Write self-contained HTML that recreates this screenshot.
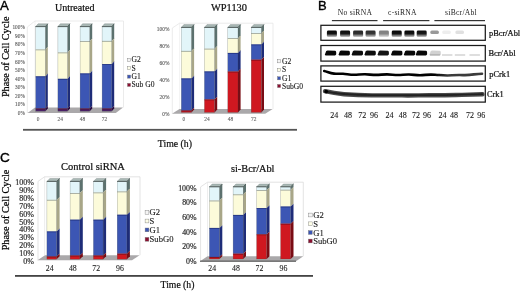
<!DOCTYPE html>
<html><head><meta charset="utf-8"><style>html,body{margin:0;padding:0;background:#fff;width:520px;height:292px;overflow:hidden}svg{display:block;filter:blur(0.35px)}</style></head><body>
<svg width="520" height="292" viewBox="0 0 520 292">
<rect width="520" height="292" fill="#fff"/>
<polyline points="27.3,113.0 27.3,27.0 35.0,21.0 123.5,21.0 123.5,107.5" fill="none" stroke="#e6e6e6" stroke-width="0.8"/>
<line x1="35.0" y1="21.0" x2="35.0" y2="107.5" stroke="#e6e6e6" stroke-width="0.5"/>
<polygon points="27.50,113.00 115.80,113.00 123.00,107.60 35.00,107.60" fill="#aaa8aa" />
<rect x="35.70" y="26.60" width="9.70" height="22.90" fill="#e2f5f9" />
<polygon points="45.40,26.60 47.80,23.80 47.80,46.70 45.40,49.50" fill="#5c716e" />
<rect x="35.70" y="49.50" width="9.70" height="26.90" fill="#fcfbda" />
<polygon points="45.40,49.50 47.80,46.70 47.80,73.60 45.40,76.40" fill="#a8a688" />
<rect x="35.70" y="76.40" width="9.70" height="32.20" fill="#3c56b4" />
<polygon points="45.40,76.40 47.80,73.60 47.80,105.80 45.40,108.60" fill="#1e2c78" />
<rect x="35.70" y="108.60" width="9.70" height="2.60" fill="#4a1f66" />
<polygon points="45.40,108.60 47.80,105.80 47.80,108.40 45.40,111.20" fill="#2a0c40" />
<polygon points="35.70,26.60 38.10,23.80 47.80,23.80 45.40,26.60" fill="#a9b8b5" stroke="#7d8c8a" stroke-width="0.4" />
<polyline points="35.7,26.6 45.400000000000006,26.6 47.800000000000004,23.8" fill="none" stroke="#3d4a48" stroke-width="0.7"/>
<line x1="35.7" y1="49.85" x2="45.400000000000006" y2="49.85" stroke="#7f8a86" stroke-width="0.8" opacity="0.85"/>
<line x1="35.7" y1="76.75" x2="45.400000000000006" y2="76.75" stroke="#1c2870" stroke-width="0.8" opacity="0.85"/>
<line x1="35.7" y1="108.95" x2="45.400000000000006" y2="108.95" stroke="#5a0a18" stroke-width="0.8" opacity="0.85"/>
<rect x="35.7" y="26.6" width="9.7" height="84.6" fill="none" stroke="#3d4a48" stroke-width="0.4" opacity="0.5"/>
<rect x="57.90" y="26.60" width="9.70" height="25.90" fill="#e2f5f9" />
<polygon points="67.60,26.60 70.00,23.80 70.00,49.70 67.60,52.50" fill="#5c716e" />
<rect x="57.90" y="52.50" width="9.70" height="26.40" fill="#fcfbda" />
<polygon points="67.60,52.50 70.00,49.70 70.00,76.10 67.60,78.90" fill="#a8a688" />
<rect x="57.90" y="78.90" width="9.70" height="29.70" fill="#3c56b4" />
<polygon points="67.60,78.90 70.00,76.10 70.00,105.80 67.60,108.60" fill="#1e2c78" />
<rect x="57.90" y="108.60" width="9.70" height="2.60" fill="#4a1f66" />
<polygon points="67.60,108.60 70.00,105.80 70.00,108.40 67.60,111.20" fill="#2a0c40" />
<polygon points="57.90,26.60 60.30,23.80 70.00,23.80 67.60,26.60" fill="#a9b8b5" stroke="#7d8c8a" stroke-width="0.4" />
<polyline points="57.9,26.6 67.6,26.6 70.0,23.8" fill="none" stroke="#3d4a48" stroke-width="0.7"/>
<line x1="57.9" y1="52.85" x2="67.6" y2="52.85" stroke="#7f8a86" stroke-width="0.8" opacity="0.85"/>
<line x1="57.9" y1="79.25" x2="67.6" y2="79.25" stroke="#1c2870" stroke-width="0.8" opacity="0.85"/>
<line x1="57.9" y1="108.95" x2="67.6" y2="108.95" stroke="#5a0a18" stroke-width="0.8" opacity="0.85"/>
<rect x="57.9" y="26.6" width="9.7" height="84.6" fill="none" stroke="#3d4a48" stroke-width="0.4" opacity="0.5"/>
<rect x="80.10" y="26.60" width="9.70" height="14.60" fill="#e2f5f9" />
<polygon points="89.80,26.60 92.20,23.80 92.20,38.40 89.80,41.20" fill="#5c716e" />
<rect x="80.10" y="41.20" width="9.70" height="32.30" fill="#fcfbda" />
<polygon points="89.80,41.20 92.20,38.40 92.20,70.70 89.80,73.50" fill="#a8a688" />
<rect x="80.10" y="73.50" width="9.70" height="35.10" fill="#3c56b4" />
<polygon points="89.80,73.50 92.20,70.70 92.20,105.80 89.80,108.60" fill="#1e2c78" />
<rect x="80.10" y="108.60" width="9.70" height="2.60" fill="#4a1f66" />
<polygon points="89.80,108.60 92.20,105.80 92.20,108.40 89.80,111.20" fill="#2a0c40" />
<polygon points="80.10,26.60 82.50,23.80 92.20,23.80 89.80,26.60" fill="#a9b8b5" stroke="#7d8c8a" stroke-width="0.4" />
<polyline points="80.1,26.6 89.8,26.6 92.2,23.8" fill="none" stroke="#3d4a48" stroke-width="0.7"/>
<line x1="80.1" y1="41.55" x2="89.8" y2="41.55" stroke="#7f8a86" stroke-width="0.8" opacity="0.85"/>
<line x1="80.1" y1="73.85" x2="89.8" y2="73.85" stroke="#1c2870" stroke-width="0.8" opacity="0.85"/>
<line x1="80.1" y1="108.95" x2="89.8" y2="108.95" stroke="#5a0a18" stroke-width="0.8" opacity="0.85"/>
<rect x="80.1" y="26.6" width="9.7" height="84.6" fill="none" stroke="#3d4a48" stroke-width="0.4" opacity="0.5"/>
<rect x="102.10" y="26.60" width="9.70" height="14.40" fill="#e2f5f9" />
<polygon points="111.80,26.60 114.20,23.80 114.20,38.20 111.80,41.00" fill="#5c716e" />
<rect x="102.10" y="41.00" width="9.70" height="23.10" fill="#fcfbda" />
<polygon points="111.80,41.00 114.20,38.20 114.20,61.30 111.80,64.10" fill="#a8a688" />
<rect x="102.10" y="64.10" width="9.70" height="44.50" fill="#3c56b4" />
<polygon points="111.80,64.10 114.20,61.30 114.20,105.80 111.80,108.60" fill="#1e2c78" />
<rect x="102.10" y="108.60" width="9.70" height="2.60" fill="#4a1f66" />
<polygon points="111.80,108.60 114.20,105.80 114.20,108.40 111.80,111.20" fill="#2a0c40" />
<polygon points="102.10,26.60 104.50,23.80 114.20,23.80 111.80,26.60" fill="#a9b8b5" stroke="#7d8c8a" stroke-width="0.4" />
<polyline points="102.1,26.6 111.8,26.6 114.2,23.8" fill="none" stroke="#3d4a48" stroke-width="0.7"/>
<line x1="102.1" y1="41.35" x2="111.8" y2="41.35" stroke="#7f8a86" stroke-width="0.8" opacity="0.85"/>
<line x1="102.1" y1="64.45" x2="111.8" y2="64.45" stroke="#1c2870" stroke-width="0.8" opacity="0.85"/>
<line x1="102.1" y1="108.95" x2="111.8" y2="108.95" stroke="#5a0a18" stroke-width="0.8" opacity="0.85"/>
<rect x="102.1" y="26.6" width="9.7" height="84.6" fill="none" stroke="#3d4a48" stroke-width="0.4" opacity="0.5"/>
<text x="24.80" y="27.30" font-family='"Liberation Serif", serif' font-size="5.3" fill="#5e5e5e" text-anchor="end" stroke="#5e5e5e" stroke-width="0.12" dominant-baseline="central">100%</text>
<text x="24.80" y="35.85" font-family='"Liberation Serif", serif' font-size="5.3" fill="#5e5e5e" text-anchor="end" stroke="#5e5e5e" stroke-width="0.12" dominant-baseline="central">90%</text>
<text x="24.80" y="44.40" font-family='"Liberation Serif", serif' font-size="5.3" fill="#5e5e5e" text-anchor="end" stroke="#5e5e5e" stroke-width="0.12" dominant-baseline="central">80%</text>
<text x="24.80" y="52.95" font-family='"Liberation Serif", serif' font-size="5.3" fill="#5e5e5e" text-anchor="end" stroke="#5e5e5e" stroke-width="0.12" dominant-baseline="central">70%</text>
<text x="24.80" y="61.50" font-family='"Liberation Serif", serif' font-size="5.3" fill="#5e5e5e" text-anchor="end" stroke="#5e5e5e" stroke-width="0.12" dominant-baseline="central">60%</text>
<text x="24.80" y="70.05" font-family='"Liberation Serif", serif' font-size="5.3" fill="#5e5e5e" text-anchor="end" stroke="#5e5e5e" stroke-width="0.12" dominant-baseline="central">50%</text>
<text x="24.80" y="78.60" font-family='"Liberation Serif", serif' font-size="5.3" fill="#5e5e5e" text-anchor="end" stroke="#5e5e5e" stroke-width="0.12" dominant-baseline="central">40%</text>
<text x="24.80" y="87.15" font-family='"Liberation Serif", serif' font-size="5.3" fill="#5e5e5e" text-anchor="end" stroke="#5e5e5e" stroke-width="0.12" dominant-baseline="central">30%</text>
<text x="24.80" y="95.70" font-family='"Liberation Serif", serif' font-size="5.3" fill="#5e5e5e" text-anchor="end" stroke="#5e5e5e" stroke-width="0.12" dominant-baseline="central">20%</text>
<text x="24.80" y="104.25" font-family='"Liberation Serif", serif' font-size="5.3" fill="#5e5e5e" text-anchor="end" stroke="#5e5e5e" stroke-width="0.12" dominant-baseline="central">10%</text>
<text x="24.80" y="112.80" font-family='"Liberation Serif", serif' font-size="5.3" fill="#5e5e5e" text-anchor="end" stroke="#5e5e5e" stroke-width="0.12" dominant-baseline="central">0%</text>
<text x="38.05" y="119.00" font-family='"Liberation Serif", serif' font-size="5.4" fill="#5e5e5e" text-anchor="middle" stroke="#5e5e5e" stroke-width="0.1" dominant-baseline="central">0</text>
<text x="60.25" y="119.00" font-family='"Liberation Serif", serif' font-size="5.4" fill="#5e5e5e" text-anchor="middle" stroke="#5e5e5e" stroke-width="0.1" dominant-baseline="central">24</text>
<text x="82.45" y="119.00" font-family='"Liberation Serif", serif' font-size="5.4" fill="#5e5e5e" text-anchor="middle" stroke="#5e5e5e" stroke-width="0.1" dominant-baseline="central">48</text>
<text x="104.45" y="119.00" font-family='"Liberation Serif", serif' font-size="5.4" fill="#5e5e5e" text-anchor="middle" stroke="#5e5e5e" stroke-width="0.1" dominant-baseline="central">72</text>
<rect x="127.50" y="58.25" width="3.10" height="3.10" fill="#f4f4f4" stroke="#777" stroke-width="0.4"/>
<text x="131.60" y="59.80" font-family='"Liberation Serif", serif' font-size="7.6" fill="#222" text-anchor="start" stroke="#222" stroke-width="0.12" dominant-baseline="central">G2</text>
<rect x="127.50" y="66.55" width="3.10" height="3.10" fill="#fdfde8" stroke="#777" stroke-width="0.4"/>
<text x="131.60" y="68.10" font-family='"Liberation Serif", serif' font-size="7.6" fill="#222" text-anchor="start" stroke="#222" stroke-width="0.12" dominant-baseline="central">S</text>
<rect x="127.50" y="75.05" width="3.10" height="3.10" fill="#3c56b4" stroke="#777" stroke-width="0.4"/>
<text x="131.60" y="76.60" font-family='"Liberation Serif", serif' font-size="7.6" fill="#222" text-anchor="start" stroke="#222" stroke-width="0.12" dominant-baseline="central">G1</text>
<rect x="127.50" y="83.35" width="3.10" height="3.10" fill="#8a1030" stroke="#777" stroke-width="0.4"/>
<text x="131.60" y="84.90" font-family='"Liberation Serif", serif' font-size="7.6" fill="#222" text-anchor="start" stroke="#222" stroke-width="0.12" dominant-baseline="central">Sub G0</text>
<text x="55.00" y="10.60" font-family='"Liberation Serif", serif' font-size="10.0" fill="#111" text-anchor="start" stroke="#111" stroke-width="0.22" >Untreated</text>
<polyline points="172.3,113.7 172.3,28.0 179.6,23.2 273.0,23.2 273.0,109.0" fill="none" stroke="#e6e6e6" stroke-width="0.8"/>
<line x1="179.6" y1="23.2" x2="179.6" y2="109.0" stroke="#e6e6e6" stroke-width="0.5"/>
<polygon points="172.00,113.70 265.20,113.70 272.70,108.90 179.50,108.90" fill="#aaa8aa" />
<rect x="181.30" y="27.40" width="10.20" height="23.60" fill="#e2f5f9" />
<polygon points="191.50,27.40 194.10,24.60 194.10,48.20 191.50,51.00" fill="#5c716e" />
<rect x="181.30" y="51.00" width="10.20" height="27.50" fill="#fcfbda" />
<polygon points="191.50,51.00 194.10,48.20 194.10,75.70 191.50,78.50" fill="#a8a688" />
<rect x="181.30" y="78.50" width="10.20" height="32.10" fill="#3c56b4" />
<polygon points="191.50,78.50 194.10,75.70 194.10,107.80 191.50,110.60" fill="#1e2c78" />
<rect x="181.30" y="110.60" width="10.20" height="1.80" fill="#cf1820" />
<polygon points="191.50,110.60 194.10,107.80 194.10,109.60 191.50,112.40" fill="#7a0c14" />
<polygon points="181.30,27.40 183.90,24.60 194.10,24.60 191.50,27.40" fill="#a9b8b5" stroke="#7d8c8a" stroke-width="0.4" />
<polyline points="181.3,27.4 191.5,27.4 194.1,24.599999999999998" fill="none" stroke="#3d4a48" stroke-width="0.7"/>
<line x1="181.3" y1="51.35" x2="191.5" y2="51.35" stroke="#7f8a86" stroke-width="0.8" opacity="0.85"/>
<line x1="181.3" y1="78.85" x2="191.5" y2="78.85" stroke="#1c2870" stroke-width="0.8" opacity="0.85"/>
<line x1="181.3" y1="110.95" x2="191.5" y2="110.95" stroke="#5a0a18" stroke-width="0.8" opacity="0.85"/>
<rect x="181.3" y="27.4" width="10.2" height="85.0" fill="none" stroke="#3d4a48" stroke-width="0.4" opacity="0.5"/>
<rect x="204.40" y="27.40" width="10.20" height="21.35" fill="#e2f5f9" />
<polygon points="214.60,27.40 217.20,24.60 217.20,45.95 214.60,48.75" fill="#5c716e" />
<rect x="204.40" y="48.75" width="10.20" height="22.75" fill="#fcfbda" />
<polygon points="214.60,48.75 217.20,45.95 217.20,68.70 214.60,71.50" fill="#a8a688" />
<rect x="204.40" y="71.50" width="10.20" height="28.00" fill="#3c56b4" />
<polygon points="214.60,71.50 217.20,68.70 217.20,96.70 214.60,99.50" fill="#1e2c78" />
<rect x="204.40" y="99.50" width="10.20" height="12.90" fill="#cf1820" />
<polygon points="214.60,99.50 217.20,96.70 217.20,109.60 214.60,112.40" fill="#7a0c14" />
<polygon points="204.40,27.40 207.00,24.60 217.20,24.60 214.60,27.40" fill="#a9b8b5" stroke="#7d8c8a" stroke-width="0.4" />
<polyline points="204.4,27.4 214.6,27.4 217.2,24.599999999999998" fill="none" stroke="#3d4a48" stroke-width="0.7"/>
<line x1="204.4" y1="49.10" x2="214.6" y2="49.10" stroke="#7f8a86" stroke-width="0.8" opacity="0.85"/>
<line x1="204.4" y1="71.85" x2="214.6" y2="71.85" stroke="#1c2870" stroke-width="0.8" opacity="0.85"/>
<line x1="204.4" y1="99.85" x2="214.6" y2="99.85" stroke="#5a0a18" stroke-width="0.8" opacity="0.85"/>
<rect x="204.4" y="27.4" width="10.2" height="85.0" fill="none" stroke="#3d4a48" stroke-width="0.4" opacity="0.5"/>
<rect x="227.80" y="27.40" width="10.20" height="10.80" fill="#e2f5f9" />
<polygon points="238.00,27.40 240.60,24.60 240.60,35.40 238.00,38.20" fill="#5c716e" />
<rect x="227.80" y="38.20" width="10.20" height="14.80" fill="#fcfbda" />
<polygon points="238.00,38.20 240.60,35.40 240.60,50.20 238.00,53.00" fill="#a8a688" />
<rect x="227.80" y="53.00" width="10.20" height="18.60" fill="#3c56b4" />
<polygon points="238.00,53.00 240.60,50.20 240.60,68.80 238.00,71.60" fill="#1e2c78" />
<rect x="227.80" y="71.60" width="10.20" height="40.80" fill="#cf1820" />
<polygon points="238.00,71.60 240.60,68.80 240.60,109.60 238.00,112.40" fill="#7a0c14" />
<polygon points="227.80,27.40 230.40,24.60 240.60,24.60 238.00,27.40" fill="#a9b8b5" stroke="#7d8c8a" stroke-width="0.4" />
<polyline points="227.8,27.4 238.0,27.4 240.6,24.599999999999998" fill="none" stroke="#3d4a48" stroke-width="0.7"/>
<line x1="227.8" y1="38.55" x2="238.0" y2="38.55" stroke="#7f8a86" stroke-width="0.8" opacity="0.85"/>
<line x1="227.8" y1="53.35" x2="238.0" y2="53.35" stroke="#1c2870" stroke-width="0.8" opacity="0.85"/>
<line x1="227.8" y1="71.95" x2="238.0" y2="71.95" stroke="#5a0a18" stroke-width="0.8" opacity="0.85"/>
<rect x="227.8" y="27.4" width="10.2" height="85.0" fill="none" stroke="#3d4a48" stroke-width="0.4" opacity="0.5"/>
<rect x="251.20" y="27.40" width="10.20" height="5.80" fill="#e2f5f9" />
<polygon points="261.40,27.40 264.00,24.60 264.00,30.40 261.40,33.20" fill="#5c716e" />
<rect x="251.20" y="33.20" width="10.20" height="11.30" fill="#fcfbda" />
<polygon points="261.40,33.20 264.00,30.40 264.00,41.70 261.40,44.50" fill="#a8a688" />
<rect x="251.20" y="44.50" width="10.20" height="15.25" fill="#3c56b4" />
<polygon points="261.40,44.50 264.00,41.70 264.00,56.95 261.40,59.75" fill="#1e2c78" />
<rect x="251.20" y="59.75" width="10.20" height="52.65" fill="#cf1820" />
<polygon points="261.40,59.75 264.00,56.95 264.00,109.60 261.40,112.40" fill="#7a0c14" />
<polygon points="251.20,27.40 253.80,24.60 264.00,24.60 261.40,27.40" fill="#a9b8b5" stroke="#7d8c8a" stroke-width="0.4" />
<polyline points="251.2,27.4 261.4,27.4 264.0,24.599999999999998" fill="none" stroke="#3d4a48" stroke-width="0.7"/>
<line x1="251.2" y1="33.55" x2="261.4" y2="33.55" stroke="#7f8a86" stroke-width="0.8" opacity="0.85"/>
<line x1="251.2" y1="44.85" x2="261.4" y2="44.85" stroke="#1c2870" stroke-width="0.8" opacity="0.85"/>
<line x1="251.2" y1="60.10" x2="261.4" y2="60.10" stroke="#5a0a18" stroke-width="0.8" opacity="0.85"/>
<rect x="251.2" y="27.4" width="10.2" height="85.0" fill="none" stroke="#3d4a48" stroke-width="0.4" opacity="0.5"/>
<text x="169.40" y="28.80" font-family='"Liberation Serif", serif' font-size="5.4" fill="#5e5e5e" text-anchor="end" stroke="#5e5e5e" stroke-width="0.12" dominant-baseline="central">100%</text>
<text x="169.40" y="45.84" font-family='"Liberation Serif", serif' font-size="5.4" fill="#5e5e5e" text-anchor="end" stroke="#5e5e5e" stroke-width="0.12" dominant-baseline="central">80%</text>
<text x="169.40" y="62.88" font-family='"Liberation Serif", serif' font-size="5.4" fill="#5e5e5e" text-anchor="end" stroke="#5e5e5e" stroke-width="0.12" dominant-baseline="central">60%</text>
<text x="169.40" y="79.92" font-family='"Liberation Serif", serif' font-size="5.4" fill="#5e5e5e" text-anchor="end" stroke="#5e5e5e" stroke-width="0.12" dominant-baseline="central">40%</text>
<text x="169.40" y="96.96" font-family='"Liberation Serif", serif' font-size="5.4" fill="#5e5e5e" text-anchor="end" stroke="#5e5e5e" stroke-width="0.12" dominant-baseline="central">20%</text>
<text x="169.40" y="114.00" font-family='"Liberation Serif", serif' font-size="5.4" fill="#5e5e5e" text-anchor="end" stroke="#5e5e5e" stroke-width="0.12" dominant-baseline="central">0%</text>
<text x="183.90" y="119.20" font-family='"Liberation Serif", serif' font-size="5.4" fill="#5e5e5e" text-anchor="middle" stroke="#5e5e5e" stroke-width="0.1" dominant-baseline="central">0</text>
<text x="207.00" y="119.20" font-family='"Liberation Serif", serif' font-size="5.4" fill="#5e5e5e" text-anchor="middle" stroke="#5e5e5e" stroke-width="0.1" dominant-baseline="central">24</text>
<text x="230.40" y="119.20" font-family='"Liberation Serif", serif' font-size="5.4" fill="#5e5e5e" text-anchor="middle" stroke="#5e5e5e" stroke-width="0.1" dominant-baseline="central">48</text>
<text x="253.80" y="119.20" font-family='"Liberation Serif", serif' font-size="5.4" fill="#5e5e5e" text-anchor="middle" stroke="#5e5e5e" stroke-width="0.1" dominant-baseline="central">72</text>
<rect x="277.50" y="59.75" width="3.10" height="3.10" fill="#f4f4f4" stroke="#777" stroke-width="0.4"/>
<text x="282.00" y="61.30" font-family='"Liberation Serif", serif' font-size="7.6" fill="#222" text-anchor="start" stroke="#222" stroke-width="0.12" dominant-baseline="central">G2</text>
<rect x="277.50" y="68.25" width="3.10" height="3.10" fill="#fdfde8" stroke="#777" stroke-width="0.4"/>
<text x="282.00" y="69.80" font-family='"Liberation Serif", serif' font-size="7.6" fill="#222" text-anchor="start" stroke="#222" stroke-width="0.12" dominant-baseline="central">S</text>
<rect x="277.50" y="76.75" width="3.10" height="3.10" fill="#3c56b4" stroke="#777" stroke-width="0.4"/>
<text x="282.00" y="78.30" font-family='"Liberation Serif", serif' font-size="7.6" fill="#222" text-anchor="start" stroke="#222" stroke-width="0.12" dominant-baseline="central">G1</text>
<rect x="277.50" y="84.45" width="3.10" height="3.10" fill="#8a1030" stroke="#777" stroke-width="0.4"/>
<text x="282.00" y="86.00" font-family='"Liberation Serif", serif' font-size="7.6" fill="#222" text-anchor="start" stroke="#222" stroke-width="0.12" dominant-baseline="central">SubG0</text>
<text x="211.00" y="10.60" font-family='"Liberation Serif", serif' font-size="10.4" fill="#111" text-anchor="start" stroke="#111" stroke-width="0.22" >WP1130</text>
<polyline points="38.0,260.3 38.0,181.4 44.6,176.8 140.0,176.8 140.0,255.2" fill="none" stroke="#dcdcdc" stroke-width="0.8"/>
<line x1="44.6" y1="176.8" x2="44.6" y2="255.2" stroke="#dcdcdc" stroke-width="0.5"/>
<polygon points="37.50,260.30 132.00,260.30 139.60,255.20 45.00,255.20" fill="#aaa8aa" />
<rect x="46.90" y="181.40" width="9.70" height="18.50" fill="#e2f5f9" />
<polygon points="56.60,181.40 59.60,178.50 59.60,197.00 56.60,199.90" fill="#5c716e" />
<rect x="46.90" y="199.90" width="9.70" height="31.60" fill="#fcfbda" />
<polygon points="56.60,199.90 59.60,197.00 59.60,228.60 56.60,231.50" fill="#a8a688" />
<rect x="46.90" y="231.50" width="9.70" height="25.10" fill="#3c56b4" />
<polygon points="56.60,231.50 59.60,228.60 59.60,253.70 56.60,256.60" fill="#1e2c78" />
<rect x="46.90" y="256.60" width="9.70" height="2.60" fill="#cf1820" />
<polygon points="56.60,256.60 59.60,253.70 59.60,256.30 56.60,259.20" fill="#7a0c14" />
<polygon points="46.90,181.40 49.90,178.50 59.60,178.50 56.60,181.40" fill="#a9b8b5" stroke="#7d8c8a" stroke-width="0.4" />
<polyline points="46.9,181.4 56.599999999999994,181.4 59.599999999999994,178.5" fill="none" stroke="#3d4a48" stroke-width="0.7"/>
<line x1="46.9" y1="200.25" x2="56.599999999999994" y2="200.25" stroke="#7f8a86" stroke-width="0.8" opacity="0.85"/>
<line x1="46.9" y1="231.85" x2="56.599999999999994" y2="231.85" stroke="#1c2870" stroke-width="0.8" opacity="0.85"/>
<line x1="46.9" y1="256.95" x2="56.599999999999994" y2="256.95" stroke="#5a0a18" stroke-width="0.8" opacity="0.85"/>
<rect x="46.9" y="181.4" width="9.7" height="77.79999999999998" fill="none" stroke="#3d4a48" stroke-width="0.4" opacity="0.5"/>
<rect x="70.10" y="181.40" width="9.70" height="11.70" fill="#e2f5f9" />
<polygon points="79.80,181.40 82.80,178.50 82.80,190.20 79.80,193.10" fill="#5c716e" />
<rect x="70.10" y="193.10" width="9.70" height="26.65" fill="#fcfbda" />
<polygon points="79.80,193.10 82.80,190.20 82.80,216.85 79.80,219.75" fill="#a8a688" />
<rect x="70.10" y="219.75" width="9.70" height="35.85" fill="#3c56b4" />
<polygon points="79.80,219.75 82.80,216.85 82.80,252.70 79.80,255.60" fill="#1e2c78" />
<rect x="70.10" y="255.60" width="9.70" height="3.60" fill="#cf1820" />
<polygon points="79.80,255.60 82.80,252.70 82.80,256.30 79.80,259.20" fill="#7a0c14" />
<polygon points="70.10,181.40 73.10,178.50 82.80,178.50 79.80,181.40" fill="#a9b8b5" stroke="#7d8c8a" stroke-width="0.4" />
<polyline points="70.1,181.4 79.8,181.4 82.8,178.5" fill="none" stroke="#3d4a48" stroke-width="0.7"/>
<line x1="70.1" y1="193.45" x2="79.8" y2="193.45" stroke="#7f8a86" stroke-width="0.8" opacity="0.85"/>
<line x1="70.1" y1="220.10" x2="79.8" y2="220.10" stroke="#1c2870" stroke-width="0.8" opacity="0.85"/>
<line x1="70.1" y1="255.95" x2="79.8" y2="255.95" stroke="#5a0a18" stroke-width="0.8" opacity="0.85"/>
<rect x="70.1" y="181.4" width="9.7" height="77.79999999999998" fill="none" stroke="#3d4a48" stroke-width="0.4" opacity="0.5"/>
<rect x="93.40" y="181.40" width="9.70" height="11.10" fill="#e2f5f9" />
<polygon points="103.10,181.40 106.10,178.50 106.10,189.60 103.10,192.50" fill="#5c716e" />
<rect x="93.40" y="192.50" width="9.70" height="27.25" fill="#fcfbda" />
<polygon points="103.10,192.50 106.10,189.60 106.10,216.85 103.10,219.75" fill="#a8a688" />
<rect x="93.40" y="219.75" width="9.70" height="35.85" fill="#3c56b4" />
<polygon points="103.10,219.75 106.10,216.85 106.10,252.70 103.10,255.60" fill="#1e2c78" />
<rect x="93.40" y="255.60" width="9.70" height="3.60" fill="#cf1820" />
<polygon points="103.10,255.60 106.10,252.70 106.10,256.30 103.10,259.20" fill="#7a0c14" />
<polygon points="93.40,181.40 96.40,178.50 106.10,178.50 103.10,181.40" fill="#a9b8b5" stroke="#7d8c8a" stroke-width="0.4" />
<polyline points="93.4,181.4 103.10000000000001,181.4 106.10000000000001,178.5" fill="none" stroke="#3d4a48" stroke-width="0.7"/>
<line x1="93.4" y1="192.85" x2="103.10000000000001" y2="192.85" stroke="#7f8a86" stroke-width="0.8" opacity="0.85"/>
<line x1="93.4" y1="220.10" x2="103.10000000000001" y2="220.10" stroke="#1c2870" stroke-width="0.8" opacity="0.85"/>
<line x1="93.4" y1="255.95" x2="103.10000000000001" y2="255.95" stroke="#5a0a18" stroke-width="0.8" opacity="0.85"/>
<rect x="93.4" y="181.4" width="9.7" height="77.79999999999998" fill="none" stroke="#3d4a48" stroke-width="0.4" opacity="0.5"/>
<rect x="117.20" y="181.40" width="9.70" height="10.10" fill="#e2f5f9" />
<polygon points="126.90,181.40 129.90,178.50 129.90,188.60 126.90,191.50" fill="#5c716e" />
<rect x="117.20" y="191.50" width="9.70" height="23.30" fill="#fcfbda" />
<polygon points="126.90,191.50 129.90,188.60 129.90,211.90 126.90,214.80" fill="#a8a688" />
<rect x="117.20" y="214.80" width="9.70" height="38.95" fill="#3c56b4" />
<polygon points="126.90,214.80 129.90,211.90 129.90,250.85 126.90,253.75" fill="#1e2c78" />
<rect x="117.20" y="253.75" width="9.70" height="5.45" fill="#cf1820" />
<polygon points="126.90,253.75 129.90,250.85 129.90,256.30 126.90,259.20" fill="#7a0c14" />
<polygon points="117.20,181.40 120.20,178.50 129.90,178.50 126.90,181.40" fill="#a9b8b5" stroke="#7d8c8a" stroke-width="0.4" />
<polyline points="117.2,181.4 126.9,181.4 129.9,178.5" fill="none" stroke="#3d4a48" stroke-width="0.7"/>
<line x1="117.2" y1="191.85" x2="126.9" y2="191.85" stroke="#7f8a86" stroke-width="0.8" opacity="0.85"/>
<line x1="117.2" y1="215.15" x2="126.9" y2="215.15" stroke="#1c2870" stroke-width="0.8" opacity="0.85"/>
<line x1="117.2" y1="254.10" x2="126.9" y2="254.10" stroke="#5a0a18" stroke-width="0.8" opacity="0.85"/>
<rect x="117.2" y="181.4" width="9.7" height="77.79999999999998" fill="none" stroke="#3d4a48" stroke-width="0.4" opacity="0.5"/>
<text x="33.80" y="182.60" font-family='"Liberation Serif", serif' font-size="8.0" fill="#333" text-anchor="end" stroke="#333" stroke-width="0.22" dominant-baseline="central">100%</text>
<text x="33.80" y="190.49" font-family='"Liberation Serif", serif' font-size="8.0" fill="#333" text-anchor="end" stroke="#333" stroke-width="0.22" dominant-baseline="central">90%</text>
<text x="33.80" y="198.38" font-family='"Liberation Serif", serif' font-size="8.0" fill="#333" text-anchor="end" stroke="#333" stroke-width="0.22" dominant-baseline="central">80%</text>
<text x="33.80" y="206.27" font-family='"Liberation Serif", serif' font-size="8.0" fill="#333" text-anchor="end" stroke="#333" stroke-width="0.22" dominant-baseline="central">70%</text>
<text x="33.80" y="214.16" font-family='"Liberation Serif", serif' font-size="8.0" fill="#333" text-anchor="end" stroke="#333" stroke-width="0.22" dominant-baseline="central">60%</text>
<text x="33.80" y="222.05" font-family='"Liberation Serif", serif' font-size="8.0" fill="#333" text-anchor="end" stroke="#333" stroke-width="0.22" dominant-baseline="central">50%</text>
<text x="33.80" y="229.94" font-family='"Liberation Serif", serif' font-size="8.0" fill="#333" text-anchor="end" stroke="#333" stroke-width="0.22" dominant-baseline="central">40%</text>
<text x="33.80" y="237.83" font-family='"Liberation Serif", serif' font-size="8.0" fill="#333" text-anchor="end" stroke="#333" stroke-width="0.22" dominant-baseline="central">30%</text>
<text x="33.80" y="245.72" font-family='"Liberation Serif", serif' font-size="8.0" fill="#333" text-anchor="end" stroke="#333" stroke-width="0.22" dominant-baseline="central">20%</text>
<text x="33.80" y="253.61" font-family='"Liberation Serif", serif' font-size="8.0" fill="#333" text-anchor="end" stroke="#333" stroke-width="0.22" dominant-baseline="central">10%</text>
<text x="33.80" y="261.50" font-family='"Liberation Serif", serif' font-size="8.0" fill="#333" text-anchor="end" stroke="#333" stroke-width="0.22" dominant-baseline="central">0%</text>
<text x="49.65" y="268.30" font-family='"Liberation Serif", serif' font-size="7.8" fill="#222" text-anchor="middle" stroke="#222" stroke-width="0.1" dominant-baseline="central">24</text>
<text x="72.85" y="268.30" font-family='"Liberation Serif", serif' font-size="7.8" fill="#222" text-anchor="middle" stroke="#222" stroke-width="0.1" dominant-baseline="central">48</text>
<text x="96.15" y="268.30" font-family='"Liberation Serif", serif' font-size="7.8" fill="#222" text-anchor="middle" stroke="#222" stroke-width="0.1" dominant-baseline="central">72</text>
<text x="119.95" y="268.30" font-family='"Liberation Serif", serif' font-size="7.8" fill="#222" text-anchor="middle" stroke="#222" stroke-width="0.1" dominant-baseline="central">96</text>
<rect x="145.10" y="210.40" width="3.80" height="3.80" fill="#f4f4f4" stroke="#777" stroke-width="0.4"/>
<text x="149.60" y="212.30" font-family='"Liberation Serif", serif' font-size="8.6" fill="#222" text-anchor="start" stroke="#222" stroke-width="0.12" dominant-baseline="central">G2</text>
<rect x="145.10" y="219.10" width="3.80" height="3.80" fill="#fdfde8" stroke="#777" stroke-width="0.4"/>
<text x="149.60" y="221.00" font-family='"Liberation Serif", serif' font-size="8.6" fill="#222" text-anchor="start" stroke="#222" stroke-width="0.12" dominant-baseline="central">S</text>
<rect x="145.10" y="228.00" width="3.80" height="3.80" fill="#3c56b4" stroke="#777" stroke-width="0.4"/>
<text x="149.60" y="229.90" font-family='"Liberation Serif", serif' font-size="8.6" fill="#222" text-anchor="start" stroke="#222" stroke-width="0.12" dominant-baseline="central">G1</text>
<rect x="145.10" y="237.40" width="3.80" height="3.80" fill="#8a1030" stroke="#777" stroke-width="0.4"/>
<text x="149.60" y="239.30" font-family='"Liberation Serif", serif' font-size="8.6" fill="#222" text-anchor="start" stroke="#222" stroke-width="0.12" dominant-baseline="central">SubG0</text>
<text x="61.00" y="169.90" font-family='"Liberation Serif", serif' font-size="10.5" fill="#111" text-anchor="start" stroke="#111" stroke-width="0.22" >Control siRNA</text>
<polyline points="200.6,261.2 200.6,186.9 207.5,182.2 303.3,182.2 303.3,256.2" fill="none" stroke="#dcdcdc" stroke-width="0.8"/>
<line x1="207.5" y1="182.2" x2="207.5" y2="256.2" stroke="#dcdcdc" stroke-width="0.5"/>
<polygon points="200.00,261.20 296.00,261.20 303.30,256.20 207.50,256.20" fill="#aaa8aa" />
<line x1="200.0" y1="261.2" x2="296.0" y2="261.2" stroke="#333" stroke-width="0.9"/>
<rect x="209.40" y="186.80" width="10.10" height="13.80" fill="#e2f5f9" />
<polygon points="219.50,186.80 222.30,184.00 222.30,197.80 219.50,200.60" fill="#5c716e" />
<rect x="209.40" y="200.60" width="10.10" height="27.40" fill="#fcfbda" />
<polygon points="219.50,200.60 222.30,197.80 222.30,225.20 219.50,228.00" fill="#a8a688" />
<rect x="209.40" y="228.00" width="10.10" height="29.00" fill="#3c56b4" />
<polygon points="219.50,228.00 222.30,225.20 222.30,254.20 219.50,257.00" fill="#1e2c78" />
<rect x="209.40" y="257.00" width="10.10" height="2.00" fill="#cf1820" />
<polygon points="219.50,257.00 222.30,254.20 222.30,256.20 219.50,259.00" fill="#7a0c14" />
<polygon points="209.40,186.80 212.20,184.00 222.30,184.00 219.50,186.80" fill="#a9b8b5" stroke="#7d8c8a" stroke-width="0.4" />
<polyline points="209.4,186.8 219.5,186.8 222.3,184.0" fill="none" stroke="#3d4a48" stroke-width="0.7"/>
<line x1="209.4" y1="200.95" x2="219.5" y2="200.95" stroke="#7f8a86" stroke-width="0.8" opacity="0.85"/>
<line x1="209.4" y1="228.35" x2="219.5" y2="228.35" stroke="#1c2870" stroke-width="0.8" opacity="0.85"/>
<line x1="209.4" y1="257.35" x2="219.5" y2="257.35" stroke="#5a0a18" stroke-width="0.8" opacity="0.85"/>
<rect x="209.4" y="186.8" width="10.1" height="72.19999999999999" fill="none" stroke="#3d4a48" stroke-width="0.4" opacity="0.5"/>
<rect x="233.10" y="186.80" width="10.10" height="7.60" fill="#e2f5f9" />
<polygon points="243.20,186.80 246.00,184.00 246.00,191.60 243.20,194.40" fill="#5c716e" />
<rect x="233.10" y="194.40" width="10.10" height="20.60" fill="#fcfbda" />
<polygon points="243.20,194.40 246.00,191.60 246.00,212.20 243.20,215.00" fill="#a8a688" />
<rect x="233.10" y="215.00" width="10.10" height="38.75" fill="#3c56b4" />
<polygon points="243.20,215.00 246.00,212.20 246.00,250.95 243.20,253.75" fill="#1e2c78" />
<rect x="233.10" y="253.75" width="10.10" height="5.25" fill="#cf1820" />
<polygon points="243.20,253.75 246.00,250.95 246.00,256.20 243.20,259.00" fill="#7a0c14" />
<polygon points="233.10,186.80 235.90,184.00 246.00,184.00 243.20,186.80" fill="#a9b8b5" stroke="#7d8c8a" stroke-width="0.4" />
<polyline points="233.1,186.8 243.2,186.8 246.0,184.0" fill="none" stroke="#3d4a48" stroke-width="0.7"/>
<line x1="233.1" y1="194.75" x2="243.2" y2="194.75" stroke="#7f8a86" stroke-width="0.8" opacity="0.85"/>
<line x1="233.1" y1="215.35" x2="243.2" y2="215.35" stroke="#1c2870" stroke-width="0.8" opacity="0.85"/>
<line x1="233.1" y1="254.10" x2="243.2" y2="254.10" stroke="#5a0a18" stroke-width="0.8" opacity="0.85"/>
<rect x="233.1" y="186.8" width="10.1" height="72.19999999999999" fill="none" stroke="#3d4a48" stroke-width="0.4" opacity="0.5"/>
<rect x="256.60" y="186.80" width="10.10" height="3.40" fill="#e2f5f9" />
<polygon points="266.70,186.80 269.50,184.00 269.50,187.40 266.70,190.20" fill="#5c716e" />
<rect x="256.60" y="190.20" width="10.10" height="17.90" fill="#fcfbda" />
<polygon points="266.70,190.20 269.50,187.40 269.50,205.30 266.70,208.10" fill="#a8a688" />
<rect x="256.60" y="208.10" width="10.10" height="26.30" fill="#3c56b4" />
<polygon points="266.70,208.10 269.50,205.30 269.50,231.60 266.70,234.40" fill="#1e2c78" />
<rect x="256.60" y="234.40" width="10.10" height="24.60" fill="#cf1820" />
<polygon points="266.70,234.40 269.50,231.60 269.50,256.20 266.70,259.00" fill="#7a0c14" />
<polygon points="256.60,186.80 259.40,184.00 269.50,184.00 266.70,186.80" fill="#a9b8b5" stroke="#7d8c8a" stroke-width="0.4" />
<polyline points="256.6,186.8 266.70000000000005,186.8 269.50000000000006,184.0" fill="none" stroke="#3d4a48" stroke-width="0.7"/>
<line x1="256.6" y1="190.55" x2="266.70000000000005" y2="190.55" stroke="#7f8a86" stroke-width="0.8" opacity="0.85"/>
<line x1="256.6" y1="208.45" x2="266.70000000000005" y2="208.45" stroke="#1c2870" stroke-width="0.8" opacity="0.85"/>
<line x1="256.6" y1="234.75" x2="266.70000000000005" y2="234.75" stroke="#5a0a18" stroke-width="0.8" opacity="0.85"/>
<rect x="256.6" y="186.8" width="10.1" height="72.19999999999999" fill="none" stroke="#3d4a48" stroke-width="0.4" opacity="0.5"/>
<rect x="280.60" y="186.80" width="10.10" height="3.00" fill="#e2f5f9" />
<polygon points="290.70,186.80 293.50,184.00 293.50,187.00 290.70,189.80" fill="#5c716e" />
<rect x="280.60" y="189.80" width="10.10" height="16.80" fill="#fcfbda" />
<polygon points="290.70,189.80 293.50,187.00 293.50,203.80 290.70,206.60" fill="#a8a688" />
<rect x="280.60" y="206.60" width="10.10" height="17.15" fill="#3c56b4" />
<polygon points="290.70,206.60 293.50,203.80 293.50,220.95 290.70,223.75" fill="#1e2c78" />
<rect x="280.60" y="223.75" width="10.10" height="35.25" fill="#cf1820" />
<polygon points="290.70,223.75 293.50,220.95 293.50,256.20 290.70,259.00" fill="#7a0c14" />
<polygon points="280.60,186.80 283.40,184.00 293.50,184.00 290.70,186.80" fill="#a9b8b5" stroke="#7d8c8a" stroke-width="0.4" />
<polyline points="280.6,186.8 290.70000000000005,186.8 293.50000000000006,184.0" fill="none" stroke="#3d4a48" stroke-width="0.7"/>
<line x1="280.6" y1="190.15" x2="290.70000000000005" y2="190.15" stroke="#7f8a86" stroke-width="0.8" opacity="0.85"/>
<line x1="280.6" y1="206.95" x2="290.70000000000005" y2="206.95" stroke="#1c2870" stroke-width="0.8" opacity="0.85"/>
<line x1="280.6" y1="224.10" x2="290.70000000000005" y2="224.10" stroke="#5a0a18" stroke-width="0.8" opacity="0.85"/>
<rect x="280.6" y="186.8" width="10.1" height="72.19999999999999" fill="none" stroke="#3d4a48" stroke-width="0.4" opacity="0.5"/>
<text x="196.60" y="188.10" font-family='"Liberation Serif", serif' font-size="7.9" fill="#333" text-anchor="end" stroke="#333" stroke-width="0.22" dominant-baseline="central">100%</text>
<text x="196.60" y="202.74" font-family='"Liberation Serif", serif' font-size="7.9" fill="#333" text-anchor="end" stroke="#333" stroke-width="0.22" dominant-baseline="central">80%</text>
<text x="196.60" y="217.38" font-family='"Liberation Serif", serif' font-size="7.9" fill="#333" text-anchor="end" stroke="#333" stroke-width="0.22" dominant-baseline="central">60%</text>
<text x="196.60" y="232.02" font-family='"Liberation Serif", serif' font-size="7.9" fill="#333" text-anchor="end" stroke="#333" stroke-width="0.22" dominant-baseline="central">40%</text>
<text x="196.60" y="246.66" font-family='"Liberation Serif", serif' font-size="7.9" fill="#333" text-anchor="end" stroke="#333" stroke-width="0.22" dominant-baseline="central">20%</text>
<text x="196.60" y="261.30" font-family='"Liberation Serif", serif' font-size="7.9" fill="#333" text-anchor="end" stroke="#333" stroke-width="0.22" dominant-baseline="central">0%</text>
<text x="212.25" y="268.50" font-family='"Liberation Serif", serif' font-size="7.8" fill="#222" text-anchor="middle" stroke="#222" stroke-width="0.1" dominant-baseline="central">24</text>
<text x="235.95" y="268.50" font-family='"Liberation Serif", serif' font-size="7.8" fill="#222" text-anchor="middle" stroke="#222" stroke-width="0.1" dominant-baseline="central">48</text>
<text x="259.45" y="268.50" font-family='"Liberation Serif", serif' font-size="7.8" fill="#222" text-anchor="middle" stroke="#222" stroke-width="0.1" dominant-baseline="central">72</text>
<text x="283.45" y="268.50" font-family='"Liberation Serif", serif' font-size="7.8" fill="#222" text-anchor="middle" stroke="#222" stroke-width="0.1" dominant-baseline="central">96</text>
<rect x="308.40" y="213.10" width="3.80" height="3.80" fill="#f4f4f4" stroke="#777" stroke-width="0.4"/>
<text x="313.20" y="215.00" font-family='"Liberation Serif", serif' font-size="8.6" fill="#222" text-anchor="start" stroke="#222" stroke-width="0.12" dominant-baseline="central">G2</text>
<rect x="308.40" y="221.90" width="3.80" height="3.80" fill="#fdfde8" stroke="#777" stroke-width="0.4"/>
<text x="313.20" y="223.80" font-family='"Liberation Serif", serif' font-size="8.6" fill="#222" text-anchor="start" stroke="#222" stroke-width="0.12" dominant-baseline="central">S</text>
<rect x="308.40" y="230.60" width="3.80" height="3.80" fill="#3c56b4" stroke="#777" stroke-width="0.4"/>
<text x="313.20" y="232.50" font-family='"Liberation Serif", serif' font-size="8.6" fill="#222" text-anchor="start" stroke="#222" stroke-width="0.12" dominant-baseline="central">G1</text>
<rect x="308.40" y="239.10" width="3.80" height="3.80" fill="#8a1030" stroke="#777" stroke-width="0.4"/>
<text x="313.20" y="241.00" font-family='"Liberation Serif", serif' font-size="8.6" fill="#222" text-anchor="start" stroke="#222" stroke-width="0.12" dominant-baseline="central">SubG0</text>
<text x="231.00" y="171.80" font-family='"Liberation Serif", serif' font-size="10.3" fill="#111" text-anchor="start" stroke="#111" stroke-width="0.22" >si-Bcr/Abl</text>
<text x="0.10" y="9.80" font-family='"Liberation Sans", sans-serif' font-size="13.2" fill="#000" text-anchor="start" stroke="#000" stroke-width="0.35">A</text>
<text x="318.00" y="9.80" font-family='"Liberation Sans", sans-serif' font-size="13.0" fill="#000" text-anchor="start" stroke="#000" stroke-width="0.35">B</text>
<text x="-0.10" y="162.40" font-family='"Liberation Sans", sans-serif' font-size="13.6" fill="#000" text-anchor="start" stroke="#000" stroke-width="0.35">C</text>
<text x="0.00" y="0.00" font-family='"Liberation Serif", serif' font-size="10.2" fill="#000" text-anchor="middle" stroke="#000" stroke-width="0.22" transform="translate(8.9,56.8) rotate(-90)">Phase of Cell Cycle</text>
<text x="0.00" y="0.00" font-family='"Liberation Serif", serif' font-size="10.2" fill="#000" text-anchor="middle" stroke="#000" stroke-width="0.22" transform="translate(9.0,210) rotate(-90)">Phase of Cell Cycle</text>
<rect x="23" y="128.9" width="274" height="1.8" fill="#555"/>
<text x="157.80" y="146.70" font-family='"Liberation Serif", serif' font-size="9.8" fill="#111" text-anchor="start" stroke="#111" stroke-width="0.22" >Time (h)</text>
<rect x="15" y="275.0" width="298" height="1.8" fill="#444"/>
<text x="160.60" y="288.00" font-family='"Liberation Serif", serif' font-size="9.7" fill="#111" text-anchor="start" stroke="#111" stroke-width="0.22" >Time (h)</text>
<text x="355.00" y="15.10" font-family='"Liberation Serif", serif' font-size="7.6" fill="#222" text-anchor="middle" letter-spacing="0.25">No siRNA</text>
<text x="402.40" y="15.10" font-family='"Liberation Serif", serif' font-size="7.6" fill="#222" text-anchor="middle" letter-spacing="0.25">c-siRNA</text>
<text x="461.00" y="15.10" font-family='"Liberation Serif", serif' font-size="7.6" fill="#222" text-anchor="middle" letter-spacing="0.25">siBcr/Abl</text>
<rect x="331.9" y="20.0" width="45.6" height="1.2" fill="#333"/>
<rect x="383.1" y="20.0" width="46.3" height="1.2" fill="#333"/>
<rect x="434.4" y="20.0" width="50.6" height="1.2" fill="#333"/>
<rect x="320.9" y="25.30" width="164.4" height="15.00" fill="#fff" stroke="#1a1a1a" stroke-width="1.25"/>
<rect x="320.9" y="45.50" width="164.4" height="15.60" fill="#fff" stroke="#1a1a1a" stroke-width="1.25"/>
<rect x="320.9" y="65.90" width="164.4" height="15.20" fill="#fff" stroke="#1a1a1a" stroke-width="1.25"/>
<rect x="320.9" y="86.30" width="164.4" height="15.80" fill="#fff" stroke="#1a1a1a" stroke-width="1.25"/>
<defs><filter id="bl" x="-30%" y="-60%" width="160%" height="220%"><feGaussianBlur stdDeviation="0.65"/></filter><filter id="bl2" x="-20%" y="-60%" width="140%" height="220%"><feGaussianBlur stdDeviation="0.5"/></filter><linearGradient id="gb1" x1="0" y1="0" x2="0" y2="1"><stop offset="0" stop-color="#000"/><stop offset="0.5" stop-color="#000" stop-opacity="0.95"/><stop offset="0.75" stop-color="#000" stop-opacity="0.55"/><stop offset="1" stop-color="#000" stop-opacity="0.2"/></linearGradient></defs>
<g filter="url(#bl)">
<rect x="326.90" y="30.5" width="10.0" height="6.6" rx="1.4" fill="url(#gb1)" opacity="0.97"/>
<rect x="340.10" y="30.5" width="10.0" height="6.6" rx="1.4" fill="url(#gb1)" opacity="0.95"/>
<rect x="353.10" y="30.5" width="10.0" height="6.6" rx="1.4" fill="url(#gb1)" opacity="0.85"/>
<rect x="365.60" y="30.5" width="10.0" height="6.6" rx="1.4" fill="url(#gb1)" opacity="0.82"/>
<rect x="378.90" y="30.5" width="10.0" height="6.6" rx="1.4" fill="url(#gb1)" opacity="0.5"/>
<rect x="391.75" y="30.5" width="10.0" height="6.6" rx="1.4" fill="url(#gb1)" opacity="0.97"/>
<rect x="404.40" y="30.5" width="10.0" height="6.6" rx="1.4" fill="url(#gb1)" opacity="0.97"/>
<rect x="416.70" y="30.5" width="10.0" height="6.6" rx="1.4" fill="url(#gb1)" opacity="0.95"/>
<rect x="430.30" y="30.6" width="8.6" height="3.4" rx="1.5" fill="#000" opacity="0.4"/>
<rect x="442.20" y="30.6" width="8.6" height="3.4" rx="1.5" fill="#000" opacity="0.07"/>
<rect x="455.40" y="30.6" width="8.6" height="3.4" rx="1.5" fill="#000" opacity="0.12"/>
<path d="M324.80,54.8 L326.20,51.0 Q326.90,50.5 327.90,50.6 L335.20,50.8 Q336.20,51.0 336.20,52.4 L336.20,54.3 Q336.00,55.4 334.90,55.4 L325.60,55.4 Z" fill="#000" opacity="0.97"/>
<path d="M338.50,54.8 L339.90,51.0 Q340.60,50.5 341.60,50.6 L348.90,50.8 Q349.90,51.0 349.90,52.4 L349.90,54.3 Q349.70,55.4 348.60,55.4 L339.30,55.4 Z" fill="#000" opacity="0.97"/>
<path d="M351.60,54.8 L353.00,51.0 Q353.70,50.5 354.70,50.6 L362.00,50.8 Q363.00,51.0 363.00,52.4 L363.00,54.3 Q362.80,55.4 361.70,55.4 L352.40,55.4 Z" fill="#000" opacity="0.95"/>
<path d="M364.40,54.8 L365.80,51.0 Q366.50,50.5 367.50,50.6 L374.80,50.8 Q375.80,51.0 375.80,52.4 L375.80,54.3 Q375.60,55.4 374.50,55.4 L365.20,55.4 Z" fill="#000" opacity="0.95"/>
<path d="M377.50,54.8 L378.90,51.0 Q379.60,50.5 380.60,50.6 L387.90,50.8 Q388.90,51.0 388.90,52.4 L388.90,54.3 Q388.70,55.4 387.60,55.4 L378.30,55.4 Z" fill="#000" opacity="0.92"/>
<path d="M391.00,54.8 L392.40,51.0 Q393.10,50.5 394.10,50.6 L401.40,50.8 Q402.40,51.0 402.40,52.4 L402.40,54.3 Q402.20,55.4 401.10,55.4 L391.80,55.4 Z" fill="#000" opacity="0.97"/>
<path d="M403.80,54.8 L405.20,51.0 Q405.90,50.5 406.90,50.6 L414.20,50.8 Q415.20,51.0 415.20,52.4 L415.20,54.3 Q415.00,55.4 413.90,55.4 L404.60,55.4 Z" fill="#000" opacity="0.97"/>
<path d="M415.70,54.8 L417.10,51.0 Q417.80,50.5 418.80,50.6 L426.10,50.8 Q427.10,51.0 427.10,52.4 L427.10,54.3 Q426.90,55.4 425.80,55.4 L416.50,55.4 Z" fill="#000" opacity="0.97"/>
<path d="M429.40,54.8 L430.80,51.0 Q431.50,50.5 432.50,50.6 L439.80,50.8 Q440.80,51.0 440.80,52.4 L440.80,54.3 Q440.60,55.4 439.50,55.4 L430.20,55.4 Z" fill="#000" opacity="0.18"/>
<rect x="429.80" y="54.4" width="10.4" height="1.2" fill="#000" opacity="0.22"/>
<rect x="442.00" y="54.4" width="10.4" height="1.2" fill="#000" opacity="0.22"/>
<rect x="454.80" y="54.4" width="10.4" height="1.2" fill="#000" opacity="0.22"/>
<rect x="469.50" y="54.4" width="10.4" height="1.2" fill="#000" opacity="0.22"/>
</g>
<defs><linearGradient id="gp" gradientUnits="userSpaceOnUse" x1="434" y1="0" x2="448" y2="0"><stop offset="0" stop-color="#000"/><stop offset="1" stop-color="#3a3a3a"/></linearGradient></defs>
<g filter="url(#bl2)"><path d="M324.2,71.0 C327,71.6 330,73.2 334,73.6 C338,74.0 340,73.6 343,73.8 C347,74.1 350,74.8 354,74.8 C358,74.8 361,74.2 365,74.3 C369,74.4 372,74.9 376,74.9 C380,74.9 383,74.4 387,74.4 C391,74.4 394,75.0 398,75.0 C402,75.0 405,74.4 409,74.5 C413,74.6 416,75.2 420,75.2 C424,75.2 427,74.6 431,74.6 C434,74.6 436,75.0 439,75.0 C443,75.4 447,75.6 452,75.3 C456,75.0 459,74.9 463,75.1 C467,75.3 470,75.0 474,74.4 C477,74.0 480,73.7 482,73.7" fill="none" stroke="url(#gp)" stroke-width="2.6" stroke-linecap="round"/></g>
<g filter="url(#bl)"><path d="M325.0,91.2 C330,92.4 336,93.5 344,94.2 C352,94.8 362,95.3 372,95.4 C382,95.5 392,95.2 402,95.4 C412,95.6 422,95.2 432,95.3 C442,95.4 452,95.1 462,94.9 C470,94.7 477,94.4 482.5,94.3" fill="none" stroke="#4a4a4a" stroke-width="4.4" stroke-linecap="round"/><path d="M325.5,91.4 C330,92.5 336,93.4 344,94.0 C352,94.6 362,95.1 372,95.2 C382,95.3 392,95.0 402,95.2 C412,95.4 422,95.0 432,95.1 C442,95.2 452,94.9 462,94.7 C470,94.5 477,94.2 482.5,94.1" fill="none" stroke="#111" stroke-width="1.8" stroke-linecap="round" opacity="0.7"/><circle cx="326.2" cy="91.6" r="1.9" fill="#000"/></g>
<text x="489.00" y="36.30" font-family='"Liberation Serif", serif' font-size="8.4" fill="#111" text-anchor="start" stroke="#111" stroke-width="0.22" >pBcr/Abl</text>
<text x="488.50" y="56.20" font-family='"Liberation Serif", serif' font-size="8.4" fill="#111" text-anchor="start" stroke="#111" stroke-width="0.22" >Bcr/Abl</text>
<text x="489.30" y="77.00" font-family='"Liberation Serif", serif' font-size="8.4" fill="#111" text-anchor="start" stroke="#111" stroke-width="0.22" >pCrk1</text>
<text x="486.90" y="96.60" font-family='"Liberation Serif", serif' font-size="8.4" fill="#111" text-anchor="start" stroke="#111" stroke-width="0.22" >Crk1</text>
<text x="334.25" y="117.90" font-family='"Liberation Serif", serif' font-size="8" fill="#1a1a1a" text-anchor="middle" stroke="#1a1a1a" stroke-width="0.1" >24</text>
<text x="348.10" y="117.90" font-family='"Liberation Serif", serif' font-size="8" fill="#1a1a1a" text-anchor="middle" stroke="#1a1a1a" stroke-width="0.1" >48</text>
<text x="362.20" y="117.90" font-family='"Liberation Serif", serif' font-size="8" fill="#1a1a1a" text-anchor="middle" stroke="#1a1a1a" stroke-width="0.1" >72</text>
<text x="373.90" y="117.90" font-family='"Liberation Serif", serif' font-size="8" fill="#1a1a1a" text-anchor="middle" stroke="#1a1a1a" stroke-width="0.1" >96</text>
<text x="389.40" y="117.90" font-family='"Liberation Serif", serif' font-size="8" fill="#1a1a1a" text-anchor="middle" stroke="#1a1a1a" stroke-width="0.1" >24</text>
<text x="402.80" y="117.90" font-family='"Liberation Serif", serif' font-size="8" fill="#1a1a1a" text-anchor="middle" stroke="#1a1a1a" stroke-width="0.1" >48</text>
<text x="416.00" y="117.90" font-family='"Liberation Serif", serif' font-size="8" fill="#1a1a1a" text-anchor="middle" stroke="#1a1a1a" stroke-width="0.1" >72</text>
<text x="426.90" y="117.90" font-family='"Liberation Serif", serif' font-size="8" fill="#1a1a1a" text-anchor="middle" stroke="#1a1a1a" stroke-width="0.1" >96</text>
<text x="442.50" y="117.90" font-family='"Liberation Serif", serif' font-size="8" fill="#1a1a1a" text-anchor="middle" stroke="#1a1a1a" stroke-width="0.1" >24</text>
<text x="454.00" y="117.90" font-family='"Liberation Serif", serif' font-size="8" fill="#1a1a1a" text-anchor="middle" stroke="#1a1a1a" stroke-width="0.1" >48</text>
<text x="470.00" y="117.90" font-family='"Liberation Serif", serif' font-size="8" fill="#1a1a1a" text-anchor="middle" stroke="#1a1a1a" stroke-width="0.1" >72</text>
<text x="481.25" y="117.90" font-family='"Liberation Serif", serif' font-size="8" fill="#1a1a1a" text-anchor="middle" stroke="#1a1a1a" stroke-width="0.1" >96</text>
</svg>
</body></html>
